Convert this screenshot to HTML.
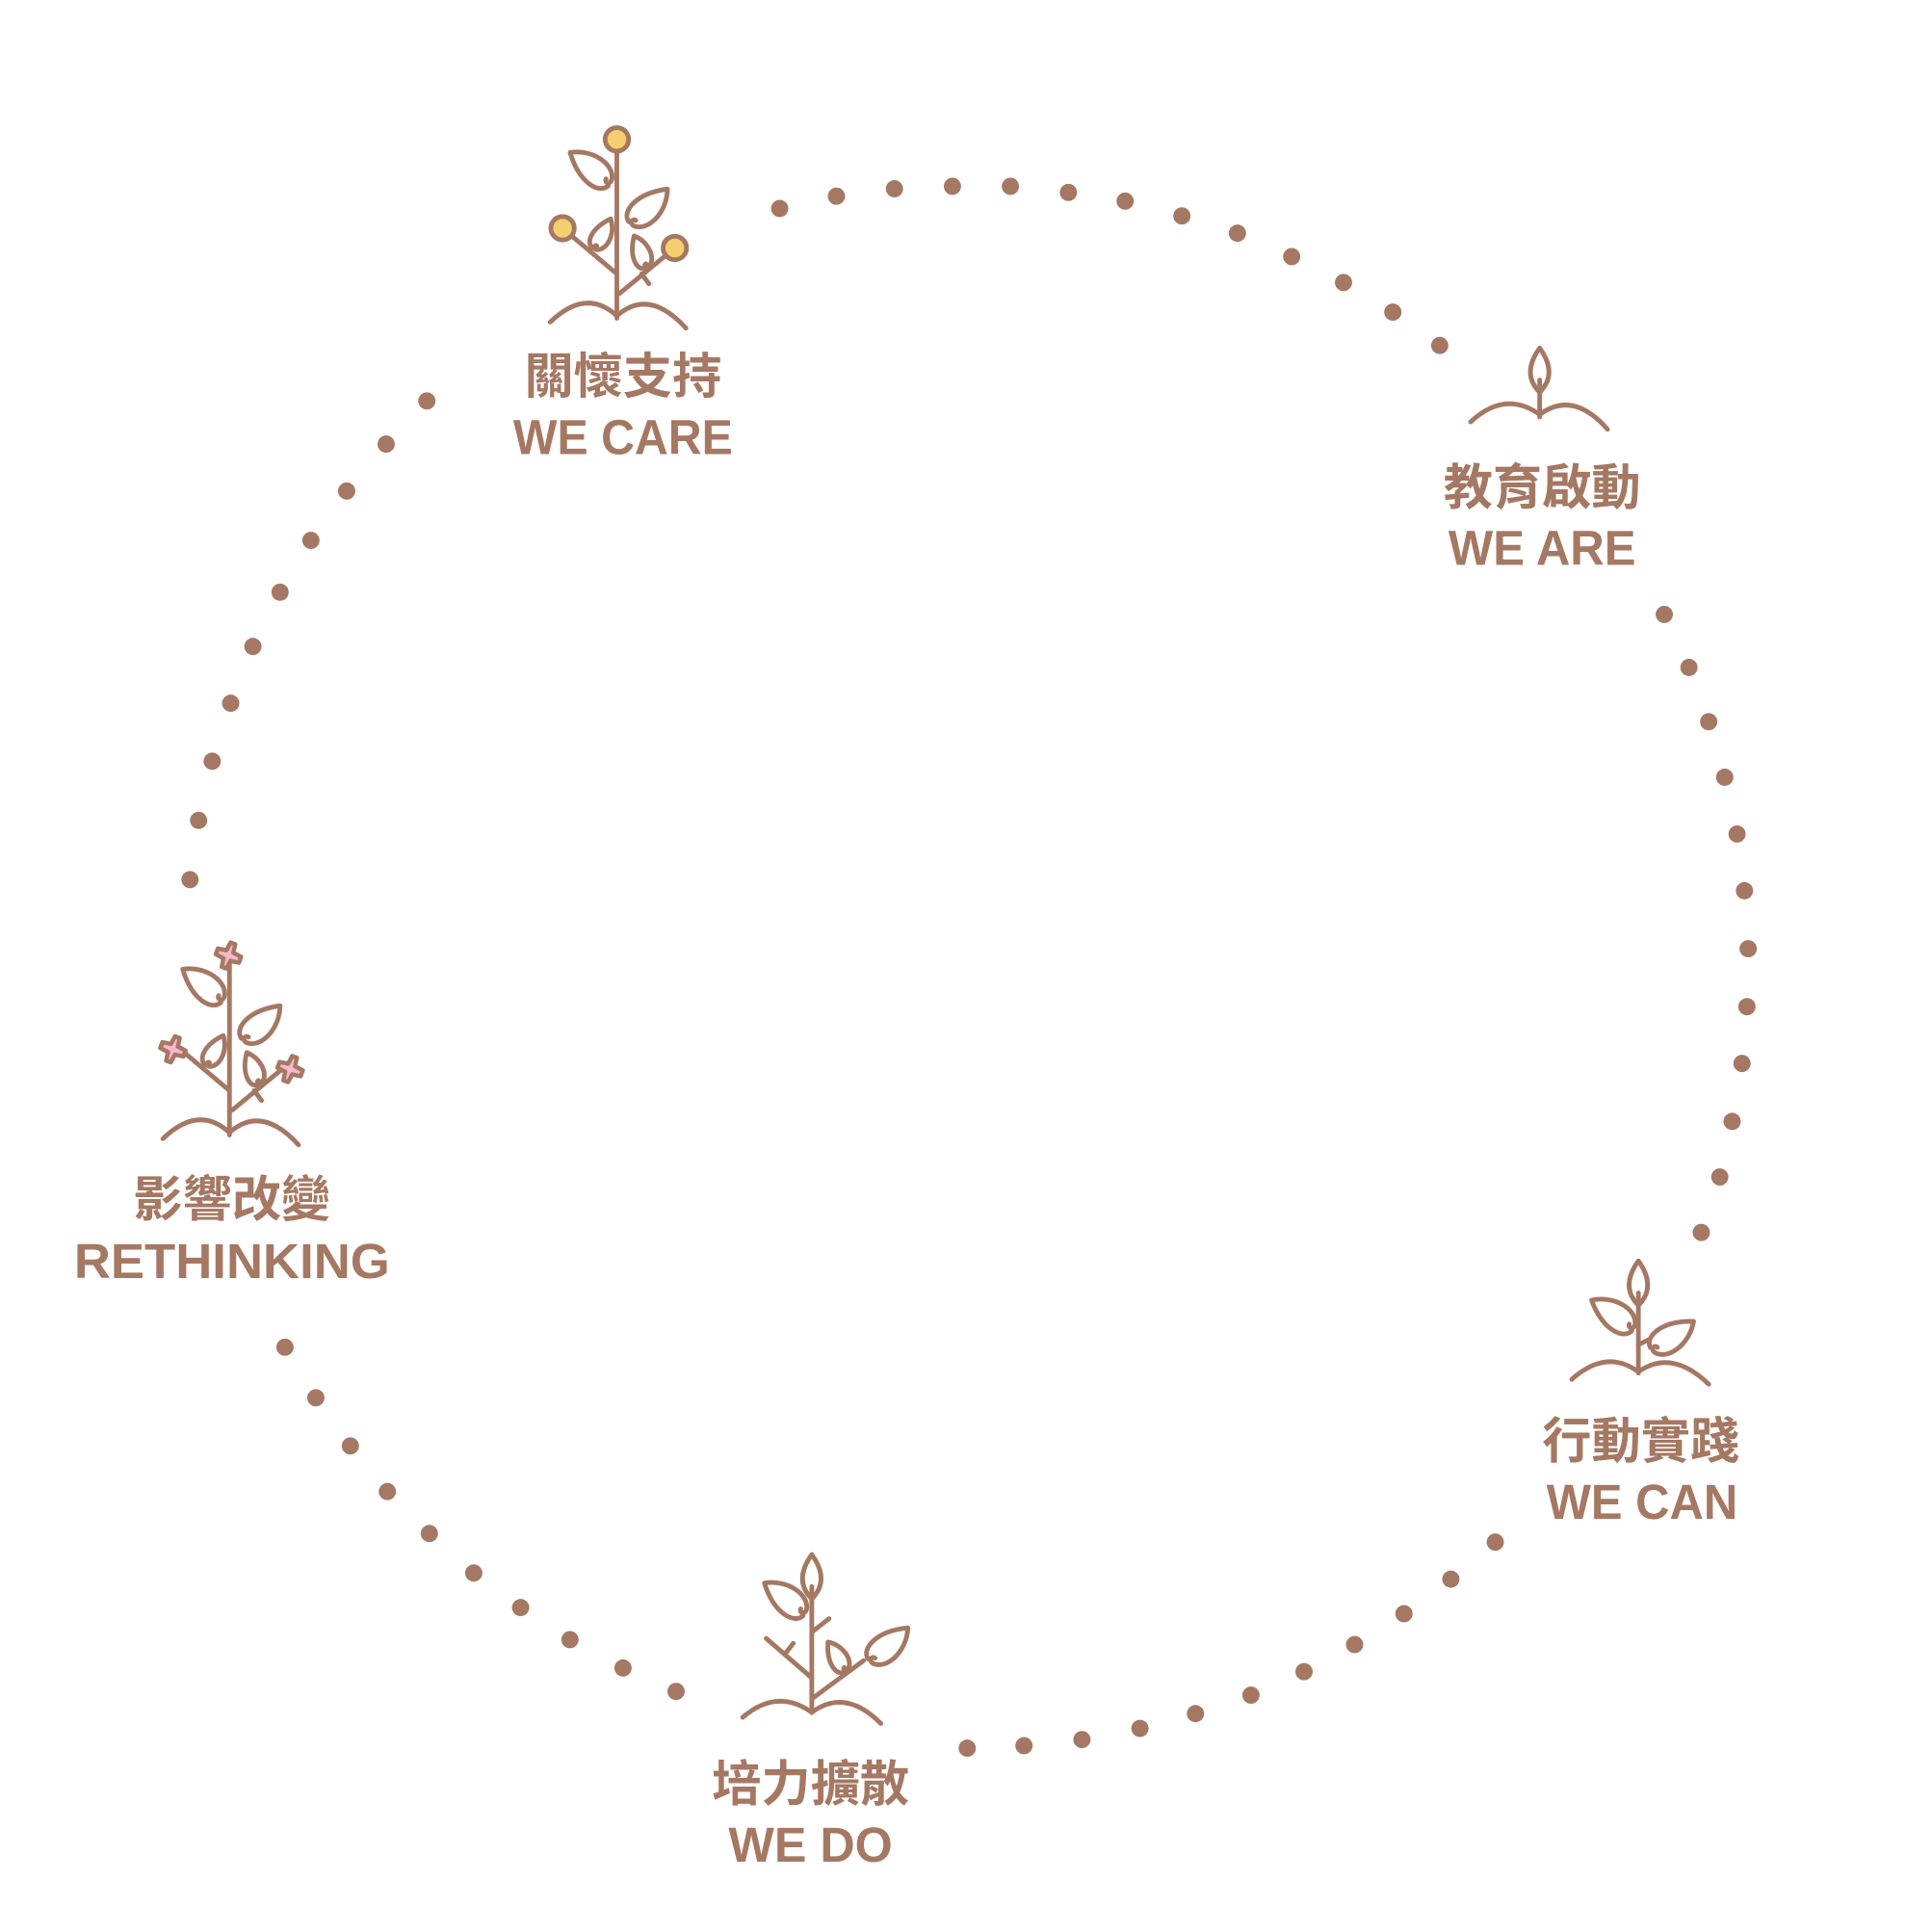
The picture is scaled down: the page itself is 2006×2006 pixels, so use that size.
<!DOCTYPE html>
<html><head><meta charset="utf-8"><style>
html,body{margin:0;padding:0;background:#fff;}
svg{display:block}
text{font-family:"Liberation Sans","Noto Sans CJK TC",sans-serif;font-weight:bold;fill:#a57863;text-anchor:middle}
</style></head><body>
<svg width="2006" height="2006" viewBox="0 0 1566 1566" xmlns="http://www.w3.org/2000/svg">
<defs>
<g id="leaf"><path d="M-3,-2 C-4,8 -22,12 -44,-2 C-32,-16 -12,-18 -5,-9 C-1,-4 -7,-1 -8,-5" fill="none" stroke="#a57863" stroke-width="3.8" stroke-linecap="round" stroke-linejoin="round"/></g>
<g id="leafs"><path d="M-3,-2 C-4,8 -22,12 -44,-2 C-32,-16 -12,-18 -5,-9 C-1,-4 -7,-1 -8,-5" fill="none" stroke="#a57863" stroke-width="5.6" stroke-linecap="round" stroke-linejoin="round"/></g>
<g id="bud"><path d="M0,0 C-10,-10 -10,-22 0,-36 C10,-22 10,-10 0,0 Z M0,0 L0,-10" fill="none" stroke="#a57863" stroke-width="3.8" stroke-linecap="round" stroke-linejoin="round"/></g>
<g id="tree" fill="none" stroke="#a57863" stroke-width="3.8" stroke-linecap="round" stroke-linejoin="round">
<path d="M500,113 L500,258"/>
<path d="M446,261 Q475,233 500,256 Q526,233 556,266"/>
<path d="M500,222 L456,185"/>
<path d="M502,238 L547,201"/>
<path d="M520,222 L526,230"/>
<use href="#leaf" transform="translate(494,154) rotate(41)"/>
<use href="#leaf" transform="translate(506,180) rotate(140)"/>
<use href="#leafs" transform="translate(478,202) rotate(122) scale(0.68)"/>
<use href="#leafs" transform="translate(522,220) rotate(72) scale(0.68)"/>
</g>
</defs>
<g fill="#a57863">
<circle cx="632" cy="169" r="7"/><circle cx="678" cy="159" r="7"/><circle cx="725" cy="153" r="7"/><circle cx="772" cy="151" r="7"/><circle cx="819" cy="151" r="7"/><circle cx="866" cy="156" r="7"/><circle cx="912" cy="163" r="7"/><circle cx="958" cy="175" r="7"/><circle cx="1003" cy="189" r="7"/><circle cx="1047" cy="208" r="7"/><circle cx="1089" cy="229" r="7"/><circle cx="1129" cy="253" r="7"/><circle cx="1167" cy="280" r="7"/>
<circle cx="1349" cy="498" r="7"/><circle cx="1369" cy="541" r="7"/><circle cx="1385" cy="585" r="7"/><circle cx="1398" cy="630" r="7"/><circle cx="1408" cy="676" r="7"/><circle cx="1414" cy="722" r="7"/><circle cx="1417" cy="769" r="7"/><circle cx="1416" cy="816" r="7"/><circle cx="1412" cy="862" r="7"/><circle cx="1404" cy="909" r="7"/><circle cx="1394" cy="954" r="7"/><circle cx="1379" cy="999" r="7"/>
<circle cx="1212" cy="1250" r="7"/><circle cx="1176" cy="1280" r="7"/><circle cx="1138" cy="1308" r="7"/><circle cx="1098" cy="1333" r="7"/><circle cx="1057" cy="1355" r="7"/><circle cx="1014" cy="1374" r="7"/><circle cx="969" cy="1389" r="7"/><circle cx="924" cy="1401" r="7"/><circle cx="877" cy="1410" r="7"/><circle cx="830" cy="1415" r="7"/><circle cx="784" cy="1417" r="7"/>
<circle cx="548" cy="1371" r="7"/><circle cx="505" cy="1352" r="7"/><circle cx="462" cy="1329" r="7"/><circle cx="422" cy="1303" r="7"/><circle cx="384" cy="1275" r="7"/><circle cx="348" cy="1243" r="7"/><circle cx="314" cy="1209" r="7"/><circle cx="284" cy="1172" r="7"/><circle cx="256" cy="1133" r="7"/><circle cx="231" cy="1092" r="7"/>
<circle cx="154" cy="713" r="7"/><circle cx="161" cy="665" r="7"/><circle cx="172" cy="617" r="7"/><circle cx="187" cy="570" r="7"/><circle cx="205" cy="524" r="7"/><circle cx="227" cy="480" r="7"/><circle cx="252" cy="438" r="7"/><circle cx="281" cy="398" r="7"/><circle cx="313" cy="360" r="7"/><circle cx="346" cy="325" r="7"/>
</g>

<!-- WE CARE -->
<use href="#tree"/>
<g fill="#f5cf6f" stroke="#a57863" stroke-width="3.8">
<circle cx="500" cy="113" r="9.5"/><circle cx="456" cy="185" r="9.5"/><circle cx="547" cy="201" r="9.5"/>
</g>
<text x="505" y="319" font-size="40">關懷支持</text>
<text x="505" y="368" font-size="40" textLength="178" lengthAdjust="spacingAndGlyphs">WE CARE</text>

<!-- RETHINKING -->
<use href="#tree" transform="translate(-314,662)"/>
<g fill="#f6b8cc" stroke="#a57863" stroke-width="3.5" stroke-linejoin="round">
<path d="M-2,-11 L2,-11 L3,-4 L10,-3 L10,2 L3,3 L2,10 L-2,10 L-3,3 L-10,2 L-10,-3 L-3,-4 Z" transform="translate(185,775) rotate(20)"/>
<path d="M-2,-11 L2,-11 L3,-4 L10,-3 L10,2 L3,3 L2,10 L-2,10 L-3,3 L-10,2 L-10,-3 L-3,-4 Z" transform="translate(140,851) rotate(20)"/>
<path d="M-2,-11 L2,-11 L3,-4 L10,-3 L10,2 L3,3 L2,10 L-2,10 L-3,3 L-10,2 L-10,-3 L-3,-4 Z" transform="translate(235,867) rotate(20)"/>
</g>
<text x="188" y="986" font-size="40">影響改變</text>
<text x="188" y="1036" font-size="40" textLength="256" lengthAdjust="spacingAndGlyphs">RETHINKING</text>

<!-- WE ARE -->
<g fill="none" stroke="#a57863" stroke-width="3.8" stroke-linecap="round">
<path d="M1248,338 L1248,318"/>
<path d="M1192,342 Q1220,316 1248,336 Q1275,316 1303,348"/>
</g>
<use href="#bud" transform="translate(1248,318)"/>
<text x="1250" y="409" font-size="40">教育啟動</text>
<text x="1250" y="458" font-size="40" textLength="152" lengthAdjust="spacingAndGlyphs">WE ARE</text>

<!-- WE CAN -->
<g fill="none" stroke="#a57863" stroke-width="3.8" stroke-linecap="round">
<path d="M1328,1058 L1328,1113"/>
<path d="M1274,1118 Q1302,1093 1328,1112 Q1355,1093 1385,1122"/>
<path d="M1328,1090 L1336,1086"/>
</g>
<use href="#bud" transform="translate(1328,1058)"/>
<use href="#leaf" transform="translate(1324,1082) rotate(37)"/>
<use href="#leaf" transform="translate(1334,1092) rotate(149)"/>
<text x="1330" y="1182" font-size="40">行動實踐</text>
<text x="1331" y="1231" font-size="40" textLength="155" lengthAdjust="spacingAndGlyphs">WE CAN</text>

<!-- WE DO -->
<g fill="none" stroke="#a57863" stroke-width="3.8" stroke-linecap="round">
<path d="M658,1296 L658,1388"/>
<path d="M602,1392 Q630,1368 658,1388 Q685,1368 714,1397"/>
<path d="M658,1323 L672,1312"/>
<path d="M658,1360 L621,1328"/>
<path d="M636,1341 L643,1332"/>
<path d="M658,1377 L700,1346"/>
</g>
<use href="#bud" transform="translate(658,1296)"/>
<use href="#leaf" transform="translate(652,1313) rotate(40)"/>
<use href="#leaf" transform="translate(700,1345) rotate(142)"/>
<use href="#leafs" transform="translate(684,1358) rotate(62) scale(0.68)"/>
<text x="657" y="1460" font-size="40">培力擴散</text>
<text x="657" y="1509" font-size="40" textLength="133" lengthAdjust="spacingAndGlyphs">WE DO</text>
</svg>
</body></html>
